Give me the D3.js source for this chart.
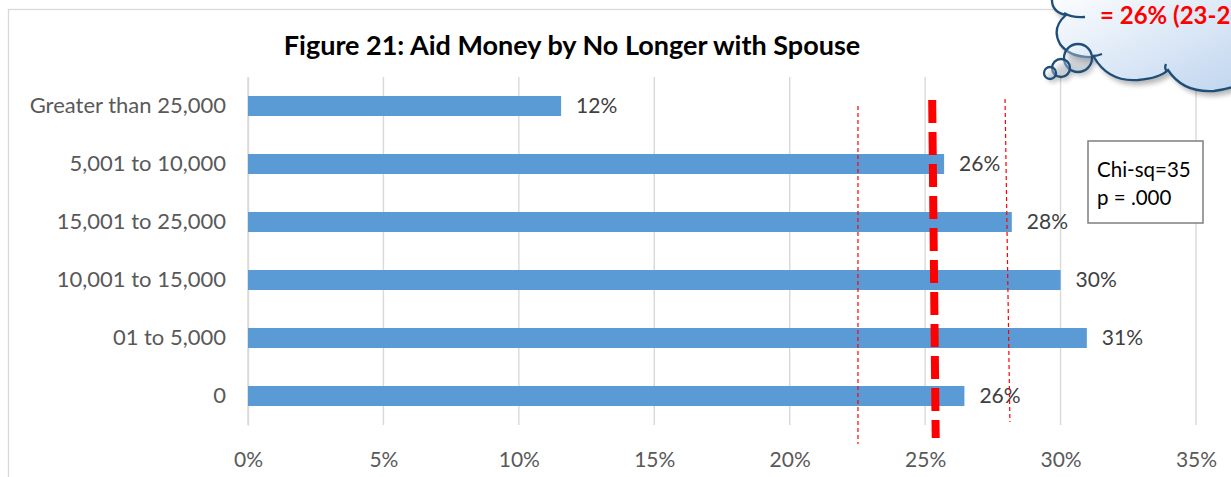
<!DOCTYPE html>
<html>
<head>
<meta charset="utf-8">
<script src="https://cdn.jsdelivr.net/npm/d3@7"></script>
<style>
  html, body { margin: 0; padding: 0; background: #fff; overflow: hidden; }
  svg { display: block; font-family: Lato, "Open Sans", sans-serif; }
</style>
</head>
<body>
<svg id="chart" width="1231" height="477"></svg>
<script>
// Income bands of aid money, top to bottom as listed in the chart
const categories = ["Greater than 25,000", "5,001 to 10,000", "15,001 to 25,000",
                    "10,001 to 15,000", "01 to 5,000", "0"];
// Share no longer with spouse in each band
const shares = [0.1156, 0.257, 0.282, 0.300, 0.3097, 0.2645];
// Axis ticks
const xTicks = [0, 0.05, 0.10, 0.15, 0.20, 0.25, 0.30, 0.35];
// Overall rate (top, bottom of the hand-drawn line) and its interval bounds
const overallRate = [0.2526, 0.2539];
const lowerBound = [0.2252, 0.2252];
const upperBound = [0.2795, 0.2813];
// Callout and test statistic text
const titleText = "Figure 21: Aid Money by No Longer with Spouse";
const calloutText = "= 26% (23-28%)";
const statLines = ["Chi-sq=35", "p = .000"];

const svg = d3.select("#chart");
const plot = { left: 248, right: 1196, top: 77, bottom: 425 };

const x = d3.scaleLinear().domain([0, 0.35]).range([plot.left, plot.right]);
const y = d3.scaleBand().domain(categories).range([plot.top, plot.bottom])
  .paddingInner(0.655).paddingOuter(0.3275);

// chart area frame
svg.append("rect")
  .attr("x", 8.5).attr("y", 9.5).attr("width", 1400).attr("height", 700)
  .attr("fill", "#fff").attr("stroke", "#d9d9d9").attr("stroke-width", 1.3);

// title
svg.append("text")
  .attr("x", 572).attr("y", 55)
  .attr("text-anchor", "middle")
  .attr("font-size", 27).attr("font-weight", 700).attr("fill", "#000")
  .text(titleText);

// vertical gridlines
svg.append("g").selectAll("line").data(xTicks).join("line")
  .attr("x1", d => x(d)).attr("x2", d => x(d))
  .attr("y1", plot.top).attr("y2", plot.bottom)
  .attr("stroke", "#d9d9d9").attr("stroke-width", 1.4);

// x axis tick labels
const xAxis = d3.axisBottom(x).tickValues(xTicks).tickFormat(d3.format(".0%")).tickSize(0).tickPadding(0);
const gx = svg.append("g").attr("transform", `translate(0, ${plot.bottom + 42})`).call(xAxis);
gx.select(".domain").remove();
gx.selectAll("text").attr("font-size", 21).attr("fill", "#595959")
  .attr("font-family", "Lato, sans-serif").attr("dy", "0");

// y axis category labels
const yAxis = d3.axisLeft(y).tickSize(0).tickPadding(22);
const gy = svg.append("g").attr("transform", `translate(${plot.left}, 0)`).call(yAxis);
gy.select(".domain").attr("stroke", "#d9d9d9").attr("stroke-width", 1.4);
gy.selectAll("text").attr("font-size", 22).attr("fill", "#595959")
  .attr("font-family", "Lato, sans-serif");

// bars
svg.append("g").selectAll("rect").data(categories).join("rect")
  .attr("x", x(0)).attr("y", d => y(d))
  .attr("width", (d, i) => x(shares[i]) - x(0))
  .attr("height", y.bandwidth())
  .attr("fill", "#5b9bd5");

// value labels
svg.append("g").selectAll("text").data(categories).join("text")
  .attr("x", (d, i) => x(shares[i]) + 15)
  .attr("y", d => y(d) + y.bandwidth() / 2)
  .attr("dy", "0.35em")
  .attr("font-size", 21).attr("fill", "#404040")
  .text((d, i) => d3.format(".0%")(shares[i]));

// interval bounds (thin dashed)
svg.append("line")
  .attr("x1", x(lowerBound[0])).attr("x2", x(lowerBound[1]))
  .attr("y1", 106).attr("y2", 444)
  .attr("stroke", "#ff0000").attr("stroke-width", 1.2).attr("stroke-dasharray", "4,3");
svg.append("line")
  .attr("x1", x(upperBound[0])).attr("x2", x(upperBound[1]))
  .attr("y1", 99).attr("y2", 422)
  .attr("stroke", "#ff0000").attr("stroke-width", 1.2).attr("stroke-dasharray", "4,3");

// overall rate (thick dashed)
svg.append("line")
  .attr("x1", x(overallRate[0])).attr("x2", x(overallRate[1]))
  .attr("y1", 100).attr("y2", 438)
  .attr("stroke", "#ff0000").attr("stroke-width", 8).attr("stroke-dasharray", "23,9");

// chi-square box
const sb = svg.append("g");
sb.append("rect").attr("x", 1088).attr("y", 141).attr("width", 115).attr("height", 82)
  .attr("fill", "#fff").attr("stroke", "#7f7f7f").attr("stroke-width", 1.5);
sb.selectAll("text").data(statLines).join("text")
  .attr("x", 1097).attr("y", (d, i) => 177 + i * 28)
  .attr("font-size", 20.5).attr("fill", "#000")
  .text(d => d);

// thought-cloud callout
const defs = svg.append("defs");
const grad = defs.append("linearGradient").attr("id", "cloudFill")
  .attr("x1", "0").attr("y1", "0").attr("x2", "1").attr("y2", "1");
grad.append("stop").attr("offset", "0%").attr("stop-color", "#ffffff");
grad.append("stop").attr("offset", "100%").attr("stop-color", "#bcd3ee");
defs.append("filter").attr("id", "soft").attr("x", "-20%").attr("y", "-20%")
  .attr("width", "140%").attr("height", "140%")
  .append("feGaussianBlur").attr("stdDeviation", 2.5);

const bubbles = [[1078, 58, 14], [1061, 68, 9], [1050, 73, 6]];
const cloudPath = "M1052,-12 L1052,-2 Q1051,12 1066,15 Q1051,28 1060,44 Q1070,58 1094,57 " +
  "Q1108,82 1138,80 Q1160,78 1168,70 Q1183,93 1214,91 Q1232,89 1250,80 L1260,-12 Z";
const cloud = svg.append("g");
cloud.append("path").attr("d", cloudPath).attr("transform", "translate(3,5)")
  .attr("fill", "#000").attr("opacity", 0.28).attr("filter", "url(#soft)");
bubbles.forEach(c => {
  cloud.append("circle").attr("cx", c[0] + 3).attr("cy", c[1] + 4).attr("r", c[2])
    .attr("fill", "#000").attr("opacity", 0.22).attr("filter", "url(#soft)");
});
cloud.append("path").attr("d", cloudPath)
  .attr("fill", "url(#cloudFill)").attr("stroke", "#1f4e79").attr("stroke-width", 2.3);
// inner arcs of the cloud lobes
cloud.append("path").attr("d", "M1064,13 Q1072,18 1085,17 M1093,56 Q1097,56 1102,54 M1167,72 Q1164,68 1166,64")
  .attr("fill", "none").attr("stroke", "#1f4e79").attr("stroke-width", 2.3);
// trailing bubbles
bubbles.forEach(c => {
  cloud.append("circle").attr("cx", c[0]).attr("cy", c[1]).attr("r", c[2])
    .attr("fill", "url(#cloudFill)").attr("fill-opacity", 0.35)
    .attr("stroke", "#1f4e79").attr("stroke-width", 2.3);
});
cloud.append("text")
  .attr("x", 1100).attr("y", 24)
  .attr("font-size", 24).attr("font-weight", 700).attr("fill", "#ff0000")
  .text(calloutText);
</script>
</body>
</html>
